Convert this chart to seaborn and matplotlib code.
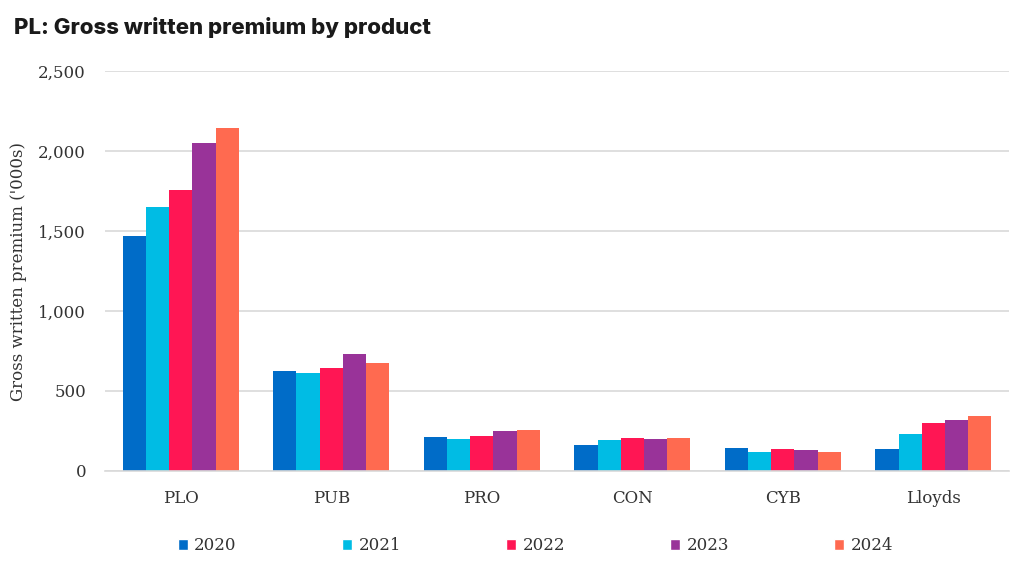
import pandas as pd
import matplotlib.pyplot as plt
import seaborn as sns
from matplotlib.patches import Patch
from matplotlib.ticker import FuncFormatter

# --- DATA ---
products = ['PLO', 'PUB', 'PRO', 'CON', 'CYB', 'Lloyds']
years = ['2020', '2021', '2022', '2023', '2024']
gwp_2020 = [1470, 627, 210, 160, 142, 135]
gwp_2021 = [1650, 610, 202, 196, 121, 229]
gwp_2022 = [1757, 644, 219, 204, 137, 298]
gwp_2023 = [2048, 733, 248, 200, 131, 319]
gwp_2024 = [2146, 675, 256, 204, 119, 346]

year_colors = ['#006CC8', '#00BCE4', '#FF1654', '#993399', '#FF6A50']

rows = []
for yr, vals in zip(years, [gwp_2020, gwp_2021, gwp_2022, gwp_2023, gwp_2024]):
    for prod, v in zip(products, vals):
        rows.append({'product': prod, 'year': yr, 'gwp': v})
df = pd.DataFrame(rows)

# --- VISUALIZATION ---
sns.set_style('white')
plt.rcParams['font.family'] = ['DejaVu Serif']

fig = plt.figure(figsize=(10.24, 5.64), dpi=100)
ax = fig.add_axes([0.103, 0.165, 0.882, 0.709])

sns.barplot(data=df, x='product', y='gwp', hue='year', palette=year_colors,
            width=0.77, saturation=1, linewidth=0, ax=ax, legend=False)

ax.set_ylim(0, 2500)
ax.set_yticks(range(0, 2501, 500))
ax.yaxis.set_major_formatter(FuncFormatter(lambda v, p: f'{int(v):,}'))
ax.grid(axis='y', color='#d9d9d9', linewidth=1.2)
ax.set_axisbelow(True)
for side in ['top', 'right', 'left']:
    ax.spines[side].set_visible(False)
ax.spines['bottom'].set_color('#d9d9d9')
ax.spines['bottom'].set_linewidth(1.2)
ax.tick_params(axis='both', length=0, labelsize=12, colors='#333333')
ax.tick_params(axis='x', pad=14)
ax.tick_params(axis='y', pad=14)

ax.set_xlabel('')
ax.set_ylabel("Gross written premium ('000s)", fontsize=12, color='#333333', labelpad=8)

fig.text(0.014, 0.952, 'PL: Gross written premium by product', fontsize=16,
         fontweight='heavy', family=['Inter', 'DejaVu Sans'], color='#1a1a1a', va='center')

handles = [Patch(facecolor=c, label=y) for c, y in zip(year_colors, years)]
fig.legend(handles=handles, loc='center', bbox_to_anchor=(0.523, 0.032), ncol=5,
           frameon=False, fontsize=12, handlelength=0.6, handleheight=0.6,
           handletextpad=0.4, columnspacing=6.3, labelcolor='#333333')

fig.savefig('out.png', dpi=100)
